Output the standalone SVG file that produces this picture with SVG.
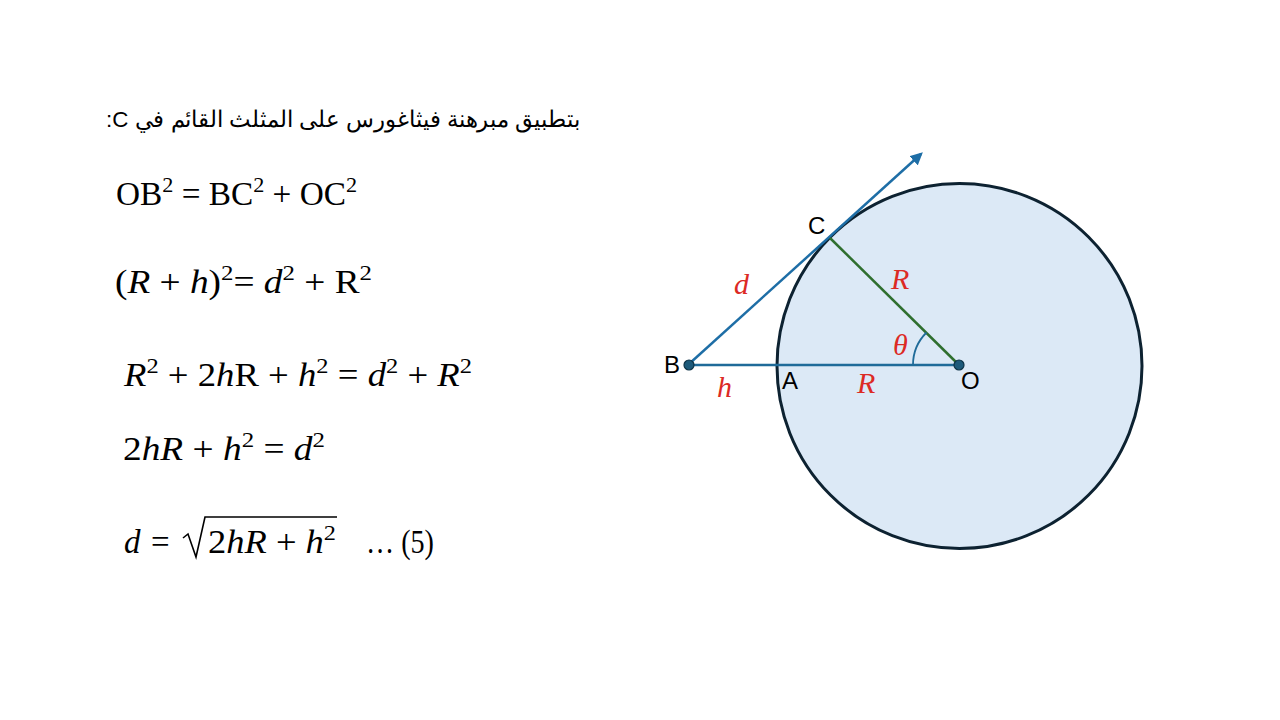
<svg xmlns="http://www.w3.org/2000/svg" width="1280" height="720" viewBox="0 0 1280 720">
<style>
.ar{font-family:"Liberation Sans",Arial,sans-serif;font-size:22.5px;fill:#000}
.m{font-family:"Liberation Serif","Times New Roman",serif;font-size:33px;fill:#000}
.i{font-style:italic}
.sup{font-size:22px}
.lbl{font-family:"Liberation Sans",Arial,sans-serif;font-size:24px;fill:#000}
.red{font-family:"Liberation Serif","Times New Roman",serif;font-style:italic;font-size:30px;fill:#dc2a24}
</style>
<defs>
<marker id="arr" viewBox="0 0 10 10" refX="8" refY="5" markerWidth="5" markerHeight="5" orient="auto" markerUnits="strokeWidth">
<path d="M0,0 L10,5 L0,10 z" fill="#1e6ea6"/>
</marker>
</defs>
<rect width="1280" height="720" fill="#fff"/>

<g id="equations">
<text class="ar" x="580" y="127" text-anchor="end" textLength="474" lengthAdjust="spacingAndGlyphs">:C بتطبيق مبرهنة فيثاغورس على المثلث القائم في</text>
<text class="m" x="116" y="205" textLength="241" lengthAdjust="spacingAndGlyphs">OB<tspan class="sup" dy="-13">2</tspan><tspan dy="13"> = BC</tspan><tspan class="sup" dy="-13">2</tspan><tspan dy="13"> + OC</tspan><tspan class="sup" dy="-13">2</tspan></text>
<text class="m" x="115" y="293" textLength="257" lengthAdjust="spacingAndGlyphs">(<tspan class="i">R</tspan> + <tspan class="i">h</tspan>)<tspan class="sup" dy="-13">2</tspan><tspan dy="13">= </tspan><tspan class="i">d</tspan><tspan class="sup" dy="-13">2</tspan><tspan dy="13"> + R</tspan><tspan class="sup" dy="-13">2</tspan></text>
<text class="m" x="124" y="386" textLength="348" lengthAdjust="spacingAndGlyphs"><tspan class="i">R</tspan><tspan class="sup" dy="-13">2</tspan><tspan dy="13"> + 2</tspan><tspan class="i">h</tspan>R + <tspan class="i">h</tspan><tspan class="sup" dy="-13">2</tspan><tspan dy="13"> = </tspan><tspan class="i">d</tspan><tspan class="sup" dy="-13">2</tspan><tspan dy="13"> + </tspan><tspan class="i">R</tspan><tspan class="sup" dy="-13">2</tspan></text>
<text class="m" x="123" y="460" textLength="202" lengthAdjust="spacingAndGlyphs">2<tspan class="i">hR</tspan> + <tspan class="i">h</tspan><tspan class="sup" dy="-13">2</tspan><tspan dy="13"> = </tspan><tspan class="i">d</tspan><tspan class="sup" dy="-13">2</tspan></text>
<text class="m" x="124" y="553"><tspan class="i">d</tspan><tspan x="151">=</tspan></text>
<path d="M183,538 L188,534 L196,557 L205,517 L337,517" fill="none" stroke="#000" stroke-width="1.6"/>
<text class="m" x="208" y="553" textLength="128" lengthAdjust="spacingAndGlyphs">2<tspan class="i">hR</tspan> + <tspan class="i">h</tspan><tspan class="sup" dy="-13">2</tspan></text>
<text class="m" x="366" y="553" textLength="68" lengthAdjust="spacingAndGlyphs">… (5)</text>
</g>

<g id="circle">
<circle cx="959.5" cy="366" r="182.5" fill="#dce9f6" stroke="#0d2231" stroke-width="3"/>
</g>

<g id="connectors">
<line x1="689" y1="364" x2="921" y2="154" stroke="#1e6ea6" stroke-width="2.5" marker-end="url(#arr)"/>
<line x1="689" y1="365" x2="959" y2="365" stroke="#1f6b99" stroke-width="2.5"/>
<line x1="830" y1="238" x2="959" y2="365" stroke="#2f6f2f" stroke-width="2.5"/>
<path d="M913,365 A46,46 0 0 1 926.5,332.5" fill="none" stroke="#1f6b99" stroke-width="1.8"/>
</g>

<g id="point-B">
<circle cx="689" cy="365" r="5" fill="#1d5a7a" stroke="#0d3347" stroke-width="1.2"/>
<text class="lbl" x="664" y="373">B</text>
</g>
<g id="point-O">
<circle cx="959" cy="365" r="5" fill="#1d5a7a" stroke="#0d3347" stroke-width="1.2"/>
<text class="lbl" x="961" y="389">O</text>
</g>
<g id="point-C">
<text class="lbl" x="808" y="234">C</text>
</g>
<g id="point-A">
<text class="lbl" x="782" y="389">A</text>
</g>

<g id="labels">
<text class="red" x="734" y="294">d</text>
<text class="red" x="891" y="289">R</text>
<text class="red" x="893" y="355">θ</text>
<text class="red" x="717" y="397">h</text>
<text class="red" x="857" y="393">R</text>
</g>
</svg>
